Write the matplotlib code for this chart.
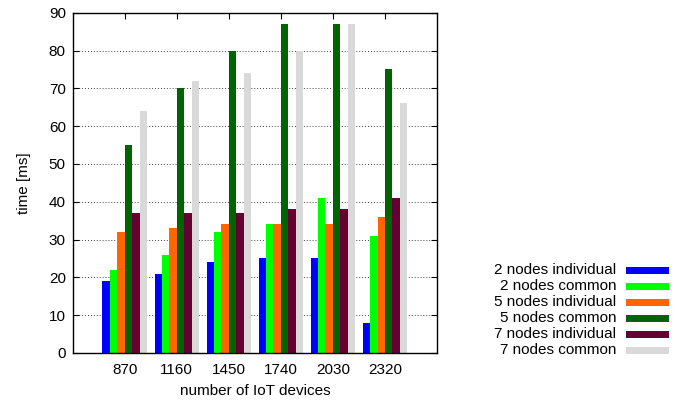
import numpy as np
import matplotlib
matplotlib.use('Agg')
import matplotlib.pyplot as plt
from matplotlib.patches import Rectangle

plt.rcParams['font.family'] = ['Liberation Sans', 'DejaVu Sans']

devices = ['870', '1160', '1450', '1740', '2030', '2320']
series_names = ['2 nodes individual', '2 nodes common',
                '5 nodes individual', '5 nodes common',
                '7 nodes individual', '7 nodes common']
two_ind = [19, 21, 24, 25, 25, 8]
two_com = [22, 26, 32, 34, 41, 31]
five_ind = [32, 33, 34, 34, 34, 36]
five_com = [55, 70, 80, 87, 87, 75]
seven_ind = [37, 37, 37, 38, 38, 41]
seven_com = [64, 72, 74, 80, 87, 66]
colors = ['#0000ff', '#00ff00', '#ff6600', '#006400', '#660033', '#d9d9d9']

series = [two_ind, two_com, five_ind, five_com, seven_ind, seven_com]

fig = plt.figure(figsize=(6.81, 4.05), dpi=100)
ax = fig.add_axes([0.1068, 0.1284, 0.5349, 0.8402])

x = np.arange(len(devices))
w = 1.0 / 7
for i, (vals, c) in enumerate(zip(series, colors)):
    ax.bar(x + (i - 2.5) * w, vals, width=w, color=c, linewidth=0, zorder=2)

ax.set_xlim(-1, 6)
ax.set_ylim(0, 90)
ax.set_yticks(range(0, 91, 10))
ax.set_xticks(x)
ax.set_xticklabels(devices)
ax.tick_params(direction='in', top=True, right=True, length=4, width=0.8,
               labelsize=11, pad=7)
ax.tick_params(axis='y', pad=5)
for yv in range(10, 90, 10):
    ax.axhline(yv, color='black', linestyle=(0, (1, 2.5)), linewidth=0.6, zorder=1)
for s in ax.spines.values():
    s.set_linewidth(1.0)

ax.set_xlabel('number of IoT devices', fontsize=11, labelpad=5)
ax.set_ylabel('time [ms]', fontsize=11, labelpad=13)

# legend, gnuplot style: text right aligned, colour box to the right
row_y = [270, 286, 302, 318, 334, 350]
for name, c, yp in zip(series_names, colors, row_y):
    fy = 1 - yp / 405
    fig.text(616 / 681, fy, name, ha='right', va='center', fontsize=11)
    fig.patches.append(Rectangle((626 / 681, fy - 3.5 / 405), 43 / 681, 7 / 405,
                                 transform=fig.transFigure, facecolor=c,
                                 edgecolor='none'))

fig.savefig('out.png', dpi=100)
